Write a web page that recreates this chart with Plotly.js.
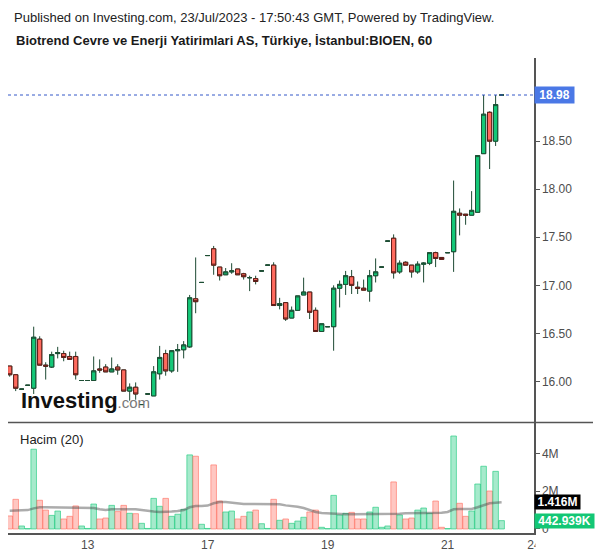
<!DOCTYPE html>
<html><head><meta charset="utf-8">
<script src="https://cdn.plot.ly/plotly-3.0.1.min.js"></script>
<style>html,body{margin:0;padding:0;background:#fff}</style>
</head><body><div id="chart" style="width:600px;height:558px"></div>
<script>
// Hourly bars, BIOEN (index 1..83)
const openP = [16.16,16.07,15.92,15.96,15.93,16.44,16.17,16.15,16.29,16.29,
 16.26,16.26,16.01,16.01,16.01,16.13,16.15,16.10,16.15,16.12,
 15.90,15.94,15.76,15.87,15.85,16.08,16.29,16.11,16.32,16.33,
 16.36,16.86,17.03,17.31,17.38,17.19,17.11,17.14,17.17,17.12,
 17.08,17.07,17.15,17.21,17.21,16.79,16.82,16.66,16.74,16.90,
 16.93,16.74,16.52,16.57,16.57,16.97,17.01,17.09,16.98,16.97,
 16.94,17.10,17.19,17.46,17.49,17.14,17.24,17.21,17.14,17.22,
 17.23,17.34,17.29,17.34,17.35,17.75,17.74,17.73,17.76,18.37,
 18.80,18.50,18.98];
const highP = [16.16,16.07,15.92,15.96,16.57,16.47,16.20,16.31,16.36,16.32,
 16.31,16.31,16.01,16.01,16.26,16.23,16.18,16.25,16.18,16.12,
 15.98,15.99,15.76,15.87,16.16,16.37,16.33,16.32,16.39,16.42,
 16.90,17.29,17.03,17.31,17.41,17.19,17.18,17.23,17.17,17.13,
 17.10,17.10,17.15,17.21,17.24,16.87,16.82,16.78,16.89,17.08,
 16.93,16.77,16.60,16.57,17.00,17.05,17.15,17.16,17.04,17.06,
 17.16,17.28,17.19,17.46,17.53,17.26,17.25,17.21,17.25,17.24,
 17.34,17.35,17.29,17.34,18.09,17.80,17.74,17.98,18.35,18.98,
 18.81,18.98,18.98];
const lowP = [16.05,15.90,15.92,15.96,15.87,16.17,16.02,16.14,16.24,16.21,
 16.23,16.02,16.01,16.01,16.01,16.09,16.10,16.10,16.07,15.90,
 15.80,15.81,15.76,15.87,15.85,16.02,16.06,16.09,16.10,16.24,
 16.35,16.71,17.03,17.31,17.11,17.05,17.11,17.12,17.11,17.06,
 16.94,17.01,17.15,17.21,16.79,16.75,16.63,16.66,16.74,16.90,
 16.65,16.52,16.52,16.57,16.32,16.77,16.90,16.91,16.91,16.95,
 16.83,17.03,17.19,17.46,17.07,17.12,17.21,17.08,17.12,17.03,
 17.21,17.19,17.27,17.34,17.14,17.52,17.63,17.73,17.76,18.37,
 18.21,18.45,18.98];
const closeP = [16.07,15.93,15.92,15.96,16.46,16.17,16.16,16.28,16.30,16.25,
 16.23,16.07,16.01,16.01,16.11,16.12,16.10,16.13,16.12,15.90,
 15.94,15.87,15.76,15.87,16.10,16.25,16.11,16.32,16.33,16.38,
 16.87,16.83,17.03,17.31,17.21,17.10,17.14,17.15,17.11,17.09,
 17.08,17.04,17.15,17.21,16.79,16.81,16.65,16.74,16.89,16.93,
 16.72,16.52,16.60,16.57,16.97,17.01,17.10,17.00,16.97,16.95,
 17.10,17.14,17.19,17.46,17.13,17.23,17.21,17.14,17.22,17.23,
 17.34,17.28,17.27,17.34,17.77,17.73,17.73,17.78,18.35,18.78,
 18.50,18.88,18.98];
// Volume in millions
const volumeM = [0.69,1.57,0.16,0.02,4.22,1.52,1.00,0.72,0.95,0.53,
 0.67,1.22,0.16,0.03,1.32,0.53,0.58,1.25,0.92,1.25,
 0.83,0.81,0.30,0.03,1.62,1.20,1.62,0.67,0.78,1.04,
 3.92,3.85,0.25,0.03,3.39,1.48,0.90,0.95,0.53,0.67,
 0.90,1.00,0.28,0.03,1.57,0.46,0.53,0.30,0.42,0.62,
 0.90,1.00,0.09,0.02,1.78,0.74,0.83,0.88,0.53,0.53,
 0.90,1.15,0.09,0.16,2.49,0.74,0.53,0.58,1.00,1.11,
 0.83,1.48,0.09,0.02,4.92,1.36,0.67,0.95,2.38,3.32,
 2.01,3.05,0.442939];
// Volume moving average (20), millions
const volMA20 = [0.97,0.99,0.99,1.00,1.09,1.15,1.15,1.15,1.15,1.15,
 1.15,1.15,1.15,1.15,1.11,1.04,1.00,1.04,1.04,1.04,
 1.04,1.04,1.00,0.95,0.92,0.90,0.90,0.92,0.95,1.00,
 1.15,1.22,1.22,1.24,1.36,1.43,1.43,1.39,1.36,1.32,
 1.32,1.32,1.32,1.32,1.32,1.31,1.25,1.22,1.18,1.11,
 1.00,0.90,0.85,0.83,0.79,0.78,0.78,0.78,0.78,0.78,
 0.78,0.78,0.78,0.78,0.79,0.81,0.83,0.83,0.83,0.83,
 0.83,0.85,0.86,0.90,1.04,1.06,1.06,1.06,1.15,1.27,
 1.36,1.39,1.416];
const dayTickPos = [14, 34, 54, 74, 88.4];
const dayTickText = ['13', '17', '19', '21', '24'];
const priceTicks = [16, 16.5, 17, 17.5, 18, 18.5];
const volTicks = [0, 2, 4];
const volTickText = ['0', '2M', '4M'];
const lastPriceLabel = '18.98';
const lastMALabel = '1.416M';
const lastVolLabel = '442.939K';

const UP = '#14c878', DOWN = '#ff6b5e';
const UPB = '#1d4e34', DOWNB = '#5e1c17', WICK = '#1d4a33';
const FONT = 'Liberation Sans, Arial, sans-serif';

const idx = openP.map((_, i) => i + 1);
const isUp = idx.map((_, i) => closeP[i] >= openP[i]);
function pick(arr, cond) { return arr.filter((_, i) => isUp[i] === cond); }
const bodyHi = idx.map((_, i) => Math.max(openP[i], closeP[i]));
const bodyLo = idx.map((_, i) => Math.min(openP[i], closeP[i]));

const traces = [
  { type: 'candlestick', x: idx, open: openP, high: highP, low: lowP, close: closeP,
    increasing: { line: { color: WICK, width: 1 }, fillcolor: UP },
    decreasing: { line: { color: WICK, width: 1 }, fillcolor: DOWN },
    whiskerwidth: 0, hoverinfo: 'skip', xaxis: 'x', yaxis: 'y' },
  { type: 'candlestick', x: pick(idx, true), open: pick(openP, true), close: pick(closeP, true),
    high: pick(bodyHi, true), low: pick(bodyLo, true),
    increasing: { line: { color: UPB, width: 1 }, fillcolor: UP },
    decreasing: { line: { color: UPB, width: 1 }, fillcolor: UP },
    whiskerwidth: 0, hoverinfo: 'skip', xaxis: 'x', yaxis: 'y' },
  { type: 'candlestick', x: pick(idx, false), open: pick(openP, false), close: pick(closeP, false),
    high: pick(bodyHi, false), low: pick(bodyLo, false),
    increasing: { line: { color: DOWNB, width: 1 }, fillcolor: DOWN },
    decreasing: { line: { color: DOWNB, width: 1 }, fillcolor: DOWN },
    whiskerwidth: 0, hoverinfo: 'skip', xaxis: 'x', yaxis: 'y' },
  { type: 'bar', x: idx, y: volumeM, xaxis: 'x', yaxis: 'y2',
    marker: { color: isUp.map(u => u ? 'rgba(22,200,120,0.38)' : 'rgba(255,107,94,0.38)'),
              line: { color: isUp.map(u => u ? 'rgba(22,200,120,0.6)' : 'rgba(255,107,94,0.6)'), width: 1 } },
    hoverinfo: 'skip' },
  { type: 'scatter', mode: 'lines', x: idx, y: volMA20, xaxis: 'x', yaxis: 'y2',
    line: { color: 'rgba(70,70,70,0.45)', width: 2.5 }, hoverinfo: 'skip' }
];

const axisFont = { family: FONT, size: 12, color: '#4d4d4d' };
const layout = {
  width: 600, height: 558,
  margin: { l: 8, r: 66, t: 58, b: 25 },
  paper_bgcolor: '#ffffff', plot_bgcolor: '#ffffff',
  showlegend: false,
  font: { family: FONT },
  boxgap: 0.3, boxgroupgap: 0, bargap: 0.07,
  title: { text: 'Published on Investing.com, 23/Jul/2023 - 17:50:43 GMT, Powered by TradingView.',
           xref: 'container', yref: 'container', x: 14 / 600, xanchor: 'left',
           y: 1 - 17 / 558, yanchor: 'middle', font: { family: FONT, size: 13, color: '#222' } },
  xaxis: { range: [0.717, 88.4], tickvals: dayTickPos, ticktext: dayTickText,
           showgrid: false, zeroline: false, showline: true, linecolor: '#555', linewidth: 1.5,
           ticks: '', tickfont: axisFont, anchor: 'y2', rangeslider: { visible: false } },
  yaxis: { domain: [0.2326, 1], range: [15.573, 19.365], side: 'right', anchor: 'x',
           tickvals: priceTicks, tickformat: '.2f', showgrid: false, zeroline: false,
           showline: true, linecolor: '#555', linewidth: 1.5, ticks: 'outside', ticklen: 4,
           tickcolor: '#555', tickfont: axisFont },
  yaxis2: { domain: [0, 0.2316], range: [-0.212, 5.608], side: 'right', anchor: 'x',
           tickvals: volTicks, ticktext: volTickText, showgrid: false, zeroline: false,
           showline: true, linecolor: '#555', linewidth: 1.5, ticks: 'outside', ticklen: 4,
           tickcolor: '#555', tickfont: axisFont },
  shapes: [
    { type: 'line', xref: 'paper', yref: 'paper', x0: 0, x1: 585 / 526, y0: 0.2326, y1: 0.2326,
      line: { color: '#555', width: 1.5 } },
    { type: 'line', xref: 'paper', yref: 'y', x0: 0, x1: 1, y0: closeP[closeP.length - 1], y1: closeP[closeP.length - 1],
      line: { color: '#3558c8', width: 1, dash: 'dot' } },
    { type: 'rect', xref: 'paper', yref: 'paper', x0: 527.5 / 526, x1: 1.2, y0: -0.06, y1: -0.006,
      fillcolor: '#ffffff', line: { width: 0 }, layer: 'above' }
  ],
  annotations: [
    { text: '<b>Biotrend Cevre ve Enerji Yatirimlari AS, Türkiye, İstanbul:BIOEN, 60</b>',
      xref: 'paper', yref: 'paper', x: 6 / 526, y: (533 - 40) / 475, xanchor: 'left', yanchor: 'middle',
      showarrow: false, font: { family: FONT, size: 13, color: '#1a1a1a' } },
    { text: 'Hacim (20)', xref: 'paper', yref: 'paper', x: 10 / 526, y: (533 - 439) / 475,
      xanchor: 'left', yanchor: 'middle', showarrow: false, font: { family: FONT, size: 13, color: '#222' } },
    { text: '<b>Investing</b><span style="font-size:15px;color:#7a7a7a">.com</span>',
      xref: 'paper', yref: 'paper', x: 11 / 526, y: (533 - 400) / 475, xanchor: 'left', yanchor: 'middle',
      showarrow: false, font: { family: FONT, size: 22, color: '#111' } },
    { text: '<b>' + lastPriceLabel + '</b>', xref: 'paper', yref: 'y', x: 1, y: closeP[closeP.length - 1],
      xanchor: 'left', yanchor: 'middle', showarrow: false, bgcolor: '#4a78e6', borderpad: 0,
      width: 39, height: 16, align: 'center',
      font: { family: FONT, size: 12, color: '#ffffff' } },
    { text: '<b>' + lastMALabel + '</b>', xref: 'paper', yref: 'y2', x: 1, y: volMA20[volMA20.length - 1],
      xanchor: 'left', yanchor: 'middle', showarrow: false, bgcolor: '#000000', borderpad: 0,
      width: 45, height: 14, align: 'center',
      font: { family: FONT, size: 12, color: '#ffffff' } },
    { text: '<b>' + lastVolLabel + '</b>', xref: 'paper', yref: 'y2', x: 1, y: volumeM[volumeM.length - 1],
      xanchor: 'left', yanchor: 'middle', showarrow: false, bgcolor: '#13c775', borderpad: 0,
      width: 59, height: 14, align: 'center',
      font: { family: FONT, size: 12, color: '#ffffff' } }
  ]
};

Plotly.newPlot('chart', traces, layout, { staticPlot: true, displayModeBar: false });
</script></body></html>
